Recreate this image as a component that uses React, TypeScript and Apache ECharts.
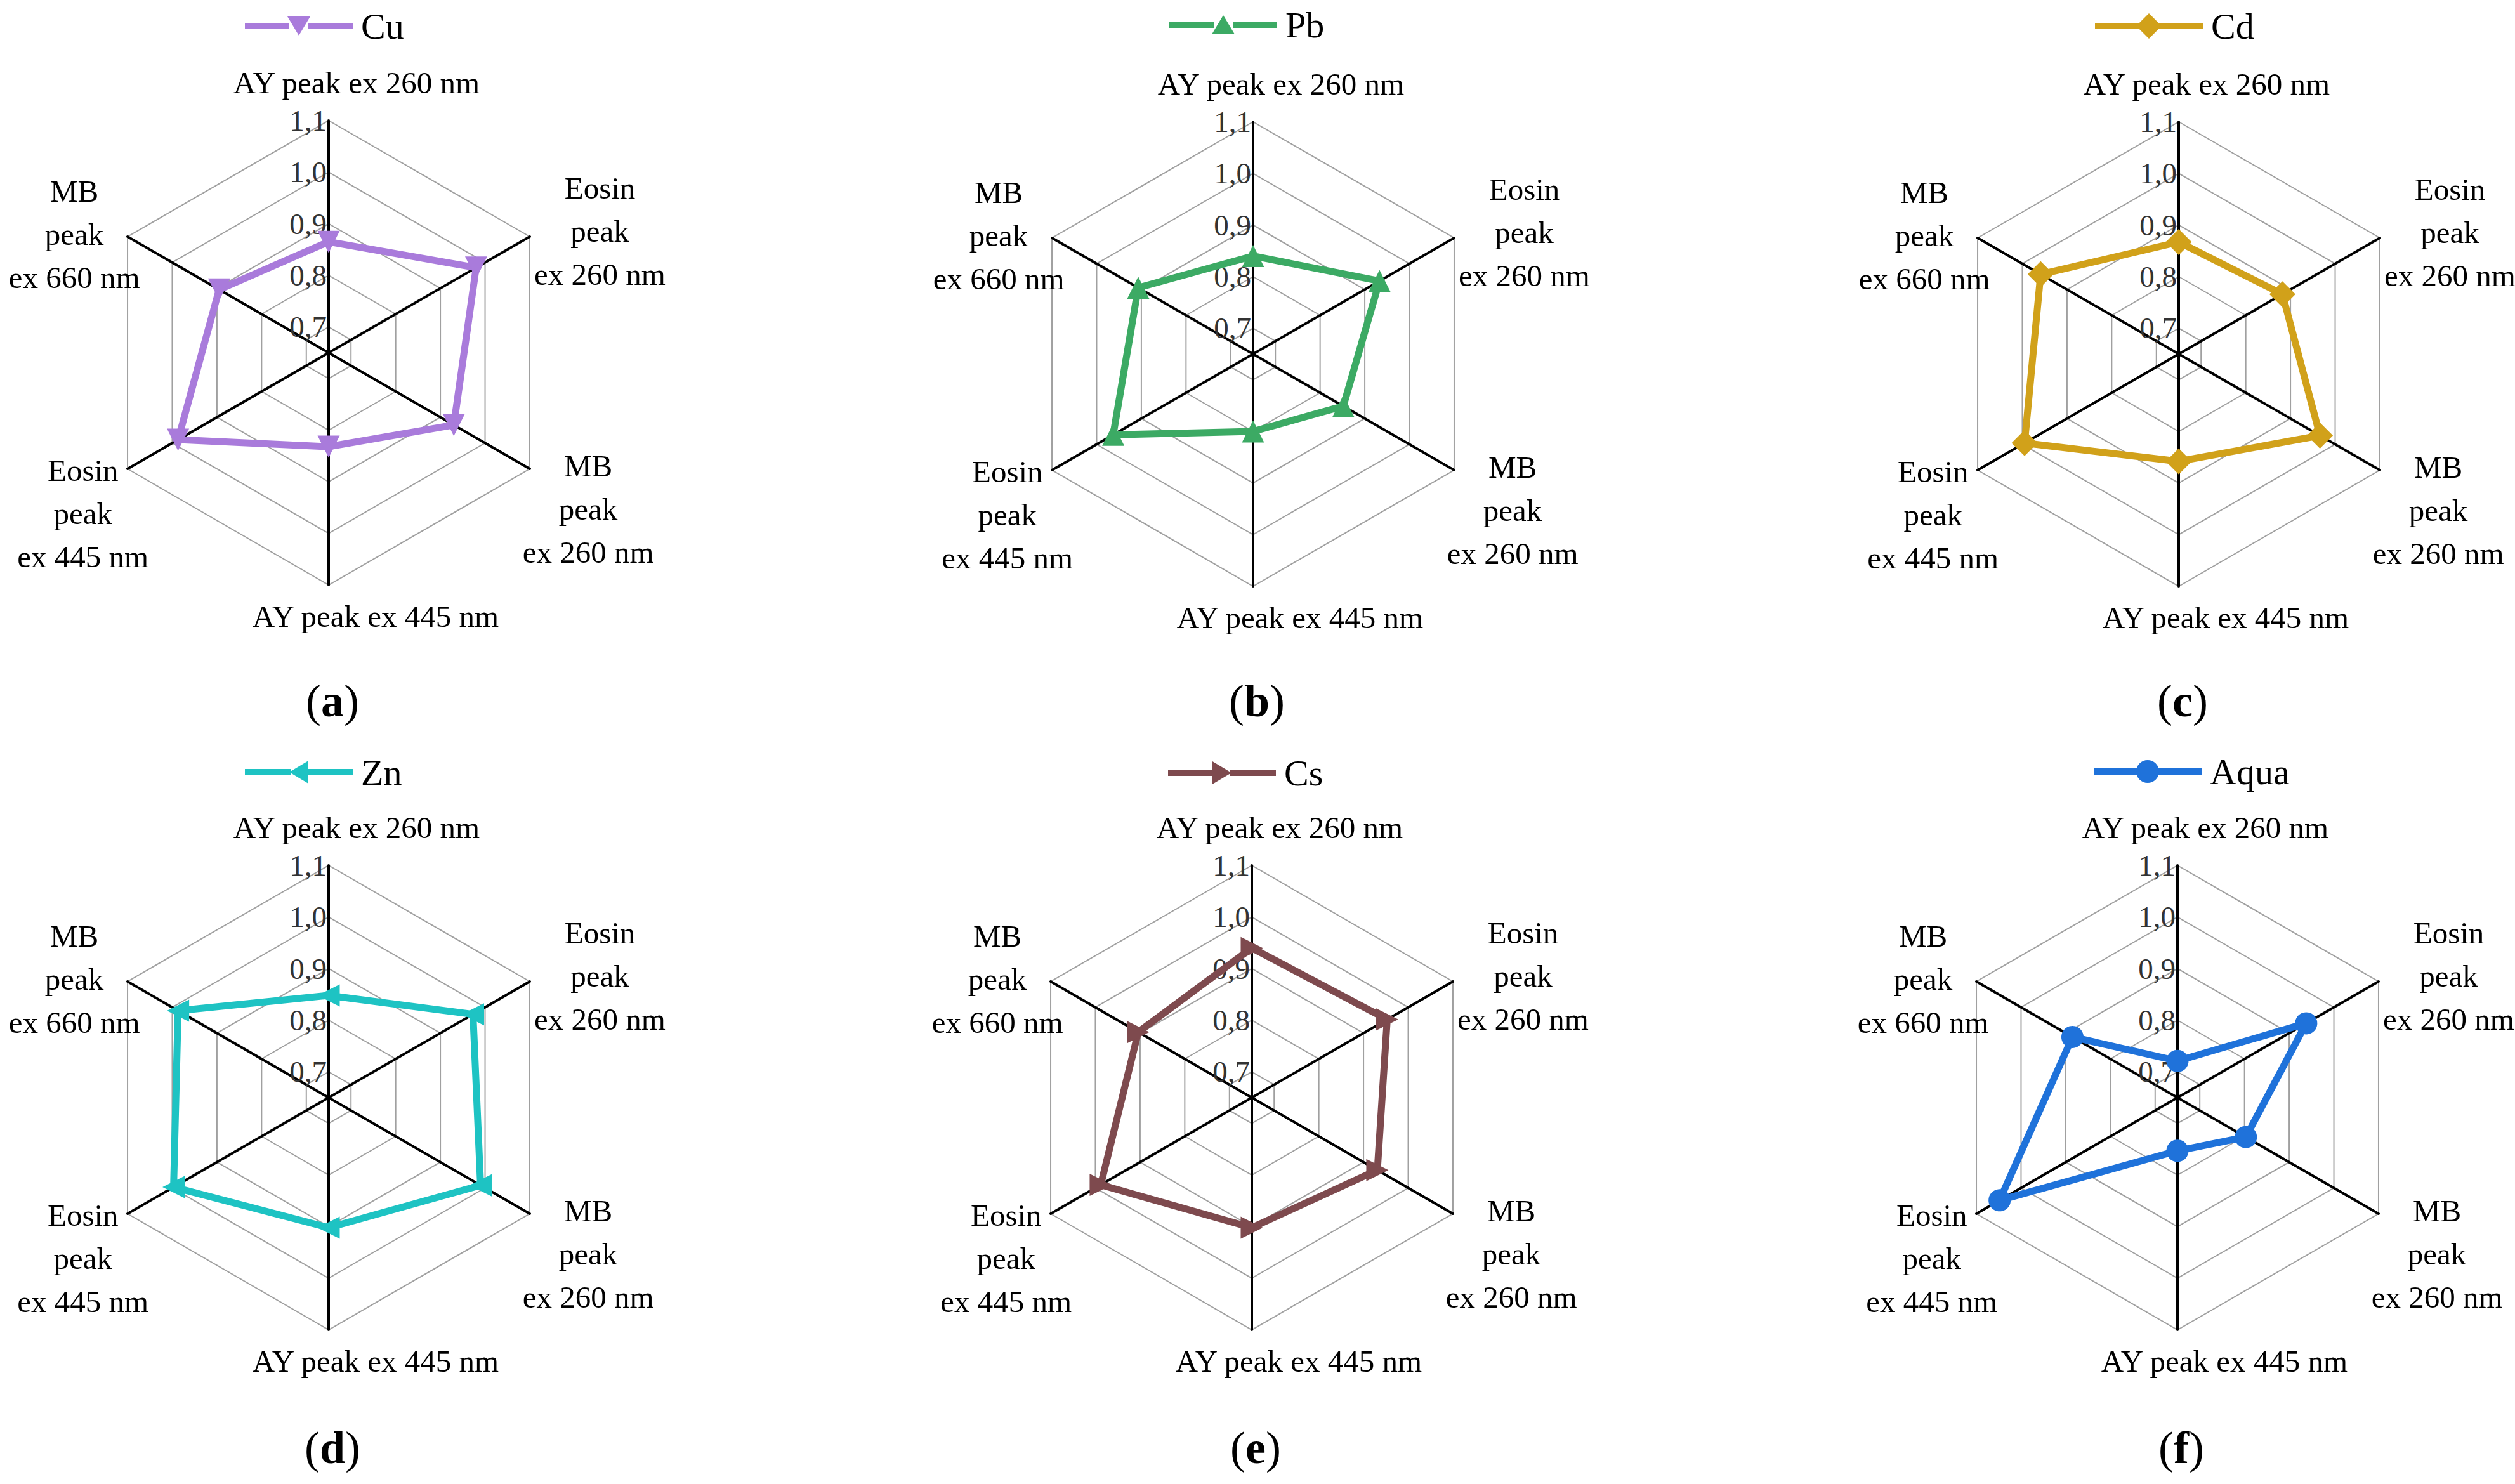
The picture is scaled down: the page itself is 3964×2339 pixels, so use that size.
import React, { useEffect, useRef } from "react";
import * as echarts from "echarts";

// ---------- data ----------
// categories in the original (clockwise) order, starting at the top
const categories = [
  "AY peak ex 260 nm",
  "Eosin\npeak\nex 260 nm",
  "MB\npeak\nex 260 nm",
  "AY peak ex 445 nm",
  "Eosin\npeak\nex 445 nm",
  "MB\npeak\nex 660 nm",
];

const seriesNames = ["Cu", "Pb", "Cd", "Zn", "Cs", "Aqua"];
const panelLetters = ["a", "b", "c", "d", "e", "f"];

const cuValues = [0.865, 0.98, 0.93, 0.832, 0.987, 0.895];
const pbValues = [0.84, 0.933, 0.852, 0.8, 0.963, 0.907];
const cdValues = [0.867, 0.882, 0.966, 0.858, 0.995, 0.959];
const znValues = [0.848, 0.973, 0.99, 0.902, 0.997, 0.987];
const csValues = [0.94, 0.953, 0.931, 0.902, 0.988, 0.904];
const aquaValues = [0.721, 0.938, 0.803, 0.753, 1.048, 0.885];

const tickValues = [0.7, 0.8, 0.9, 1.0, 1.1];
const tickLabels = ["0,7", "0,8", "0,9", "1,0", "1,1"];
const axisMin = 0.65;
const axisMax = 1.1;

// ---------- styling ----------
const FONT = "'Liberation Serif', 'Times New Roman', serif";
const colors = ["#A97BDB", "#3CAA64", "#D1A11A", "#1EC3C3", "#7E4A4E", "#1F72DA"];
const symbols = ["triangle", "triangle", "diamond", "triangle", "triangle", "circle"];
const symbolRotates = [180, 0, 0, 90, -90, 0];
const symbolSizes = [35, 35, 41, 35, 35, 35];

const legendIcons = [
  { h: 30, p: "path://M0,10L70,10L70,20L0,20ZM100,10L170,10L170,20L100,20ZM67,0L103,0L85,30Z" },
  { h: 30, p: "path://M0,10L70,10L70,20L0,20ZM100,10L170,10L170,20L100,20ZM85,0L103,30L67,30Z" },
  { h: 40, p: "path://M0,15L70,15L70,25L0,25ZM100,15L170,15L170,25L100,25ZM85,0L105,20L85,40L65,20Z" },
  { h: 36, p: "path://M0,13L72,13L72,23L0,23ZM98,13L170,13L170,23L98,23ZM70,18L100,0L100,36Z" },
  { h: 36, p: "path://M0,13L72,13L72,23L0,23ZM98,13L170,13L170,23L98,23ZM70,0L100,18L70,36Z" },
  { h: 36, p: "path://M0,13L70,13L70,23L0,23ZM100,13L170,13L170,23L100,23ZM67,18A18,18 0 1,1 103,18A18,18 0 1,1 67,18Z" },
];

const centers = [
  [518, 556],
  [1975, 558],
  [3434, 558],
  [518, 1730],
  [1973, 1730],
  [3432, 1730],
];
const RADIUS = 366;
const letterY = [1105, 1105, 1105, 2282, 2282, 2282];
const legendTop = [12, 10, 12, 1188, 1189, 1187];

// per-category name placement (original order)
const nameGaps = [60, 18, 126, 49, 140, 8];
const namePads = [
  [0, 0, 0, 88],
  [0, 0, 0, 190],
  [0, 34, 0, 0],
  [0, 0, 0, 148],
  [0, 0, 0, 102],
  [0, 154, 0, 0],
];

// ECharts places indicators counter-clockwise; original order is clockwise
const ecOrder = [0, 5, 4, 3, 2, 1];

const allValues = [cuValues, pbValues, cdValues, znValues, csValues, aquaValues];

function tickFormatter(v: number) {
  for (let i = 0; i < tickValues.length; i++) {
    if (Math.abs(v - tickValues[i]) < 1e-6) return tickLabels[i];
  }
  return "";
}

function buildOption() {
  const radar = centers.map((c) => ({
    center: c,
    radius: RADIUS,
    startAngle: 90,
    splitNumber: 9,
    shape: "polygon",
    axisNameGap: 0,
    axisName: {
      color: "#000",
      fontSize: 49,
      fontFamily: FONT,
      lineHeight: 68,
    },
    indicator: ecOrder.map((k, j) => {
      const ind: any = {
        name: categories[k],
        min: axisMin,
        max: axisMax,
        nameGap: nameGaps[k],
        nameTextStyle: {
          align: "center",
          verticalAlign: "middle",
          padding: namePads[k],
        },
      };
      if (j === 0) {
        ind.axisLabel = {
          show: true,
          formatter: tickFormatter,
          color: "#333",
          fontSize: 47,
          fontFamily: FONT,
          margin: 3,
          showMinLabel: true,
          showMaxLabel: true,
        };
      }
      return ind;
    }),
    axisLine: { show: true, lineStyle: { color: "#000", width: 4 } },
    axisTick: { show: false },
    axisLabel: { show: false },
    splitLine: {
      show: true,
      lineStyle: { color: ["rgba(0,0,0,0)", "#a0a0a0"], width: 2 },
    },
    splitArea: { show: false },
  }));

  const series = seriesNames.map((name, i) => ({
    type: "radar",
    radarIndex: i,
    name,
    symbol: symbols[i],
    symbolSize: symbolSizes[i],
    symbolRotate: symbolRotates[i],
    lineStyle: { width: 11, color: colors[i] },
    itemStyle: { color: colors[i] },
    z: 3,
    data: [{ name, value: ecOrder.map((k) => allValues[i][k]) }],
  }));

  const legend = seriesNames.map((name, i) => ({
    data: [name],
    left: centers[i][0] - 132,
    top: legendTop[i],
    padding: 0,
    selectedMode: false,
    icon: legendIcons[i].p,
    itemWidth: 170,
    itemHeight: legendIcons[i].h,
    itemStyle: { color: colors[i], borderWidth: 0 },
    textStyle: {
      color: "#000",
      fontSize: 58,
      fontFamily: FONT,
      padding: [0, 0, 0, 8],
    },
  }));

  const graphic = panelLetters.map((l, i) => ({
    type: "text",
    x: centers[i][0] + 6,
    y: letterY[i],
    style: {
      text: "(" + "{b|" + l + "})",
      rich: { b: { fontWeight: "bold", fontSize: 72, fontFamily: FONT, fill: "#000" } },
      fontSize: 72,
      fontFamily: FONT,
      fill: "#000",
      align: "center",
      verticalAlign: "middle",
    },
  }));

  return {
    animation: false,
    backgroundColor: "#fff",
    radar,
    series,
    legend,
    graphic,
  };
}

export default function App() {
  const ref = useRef<HTMLDivElement>(null);
  useEffect(() => {
    if (!ref.current) return;
    const chart = echarts.init(ref.current, undefined, { renderer: "svg" });
    chart.setOption(buildOption() as any);
    return () => chart.dispose();
  }, []);
  return (
    <div
      ref={ref}
      style={{ position: "absolute", left: 0, top: 0, width: 3964, height: 2339, background: "#fff" }}
    />
  );
}
